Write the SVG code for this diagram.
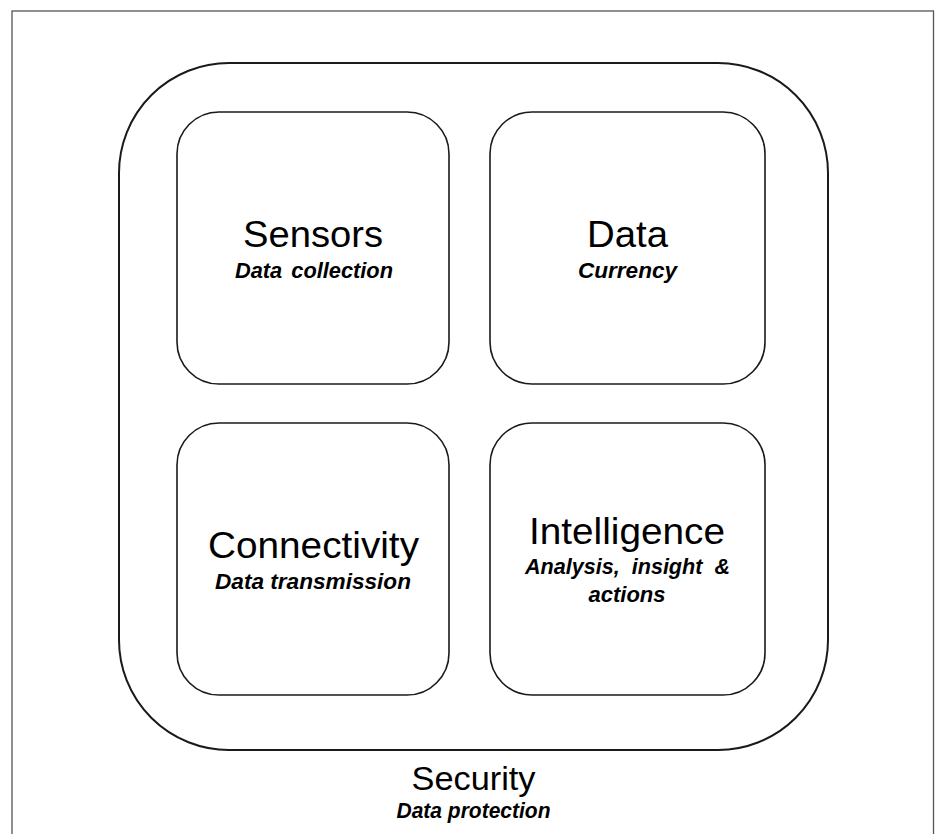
<svg xmlns="http://www.w3.org/2000/svg" width="938" height="834" viewBox="0 0 938 834">
<style>
.box{fill:#fff;stroke:#1a1a1a;stroke-width:1.6}
.outer{fill:#fff;stroke:#1a1a1a;stroke-width:2}
.t{font-family:"Liberation Sans",Arial,sans-serif;font-size:37px;fill:#000;text-anchor:middle}
.s{font-family:"Liberation Sans",Arial,sans-serif;font-size:21.5px;font-weight:bold;font-style:italic;fill:#000;text-anchor:middle}
</style>
<rect x="0" y="0" width="938" height="834" fill="#fff"/>
<rect x="12" y="11" width="921.5" height="830" fill="#fff" stroke="#555" stroke-width="1.3"/>
<g id="security">
<rect class="outer" x="119" y="63" width="709" height="687" rx="110" ry="110"/>
<text class="t" x="473.5" y="790" style="font-size:34px" textLength="124" lengthAdjust="spacingAndGlyphs">Security</text>
<text class="s" x="473.5" y="818" textLength="154" lengthAdjust="spacingAndGlyphs">Data protection</text>
</g>
<g id="sensors">
<rect class="box" x="177" y="112" width="272" height="272" rx="42" ry="42"/>
<text class="t" x="313" y="247" textLength="140" lengthAdjust="spacingAndGlyphs">Sensors</text>
<text class="s" x="314" y="278" word-spacing="3" textLength="158" lengthAdjust="spacingAndGlyphs">Data collection</text>
</g>
<g id="data">
<rect class="box" x="490" y="112" width="275" height="272" rx="42" ry="42"/>
<text class="t" x="627.5" y="247" textLength="81" lengthAdjust="spacingAndGlyphs">Data</text>
<text class="s" x="627.5" y="278" textLength="99" lengthAdjust="spacingAndGlyphs">Currency</text>
</g>
<g id="connectivity">
<rect class="box" x="177" y="423" width="272" height="272" rx="42" ry="42"/>
<text class="t" x="313.5" y="558" textLength="211" lengthAdjust="spacingAndGlyphs">Connectivity</text>
<text class="s" x="313" y="589" textLength="196" lengthAdjust="spacingAndGlyphs">Data transmission</text>
</g>
<g id="intelligence">
<rect class="box" x="490" y="423" width="275" height="272" rx="42" ry="42"/>
<text class="t" x="627" y="544" textLength="196" lengthAdjust="spacingAndGlyphs">Intelligence</text>
<text class="s" x="627.5" y="574" word-spacing="6" textLength="205" lengthAdjust="spacingAndGlyphs">Analysis, insight &amp;</text>
<text class="s" x="627" y="602" textLength="77" lengthAdjust="spacingAndGlyphs">actions</text>
</g>
<g id="connectors"></g>
</svg>
